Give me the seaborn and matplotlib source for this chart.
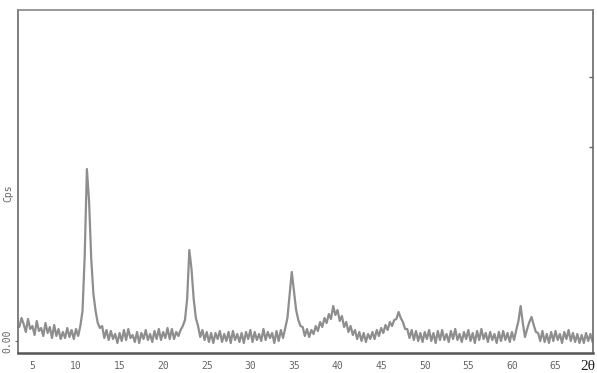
import numpy as np
import pandas as pd
import matplotlib
matplotlib.use("Agg")
import matplotlib.pyplot as plt
import seaborn as sns

# 2-theta scan grid (degrees), instrument step 0.25
theta_start = 3.5
theta_step = 0.25

# intensity (Cps, arbitrary units), per 1-degree block
cps = [
    14, 23,                                  # 3.5 - 3.75
    17, 9, 22, 12,                           # 4
    15, 6, 20, 10,                           # 5
    13, 5, 18, 8,                            # 6
    14, 3, 16, 5,                            # 7
    12, 2, 9, 3,                             # 8
    13, 4, 11, 2,                            # 9
    12, 5, 15, 30,                           # 10
    85, 172, 140, 82,                        # 11
    47, 30, 18, 13,                          # 12
    15, 3, 11, 1,                            # 13
    10, 2, 7, -2,                            # 14
    8, 0, 11, 1,                             # 15
    12, 3, 6, -1,                            # 16
    9, -2, 8, 2,                             # 17
    11, 1, 7, -1,                            # 18
    10, 2, 12, 1,                            # 19
    9, 3, 13, 2,                             # 20
    12, 2, 9, 5,                             # 21
    11, 15, 21, 42,                          # 22
    91, 72, 42, 23,                          # 23
    15, 4, 11, 1,                            # 24
    9, -1, 8, -2,                            # 25
    8, 2, 10, -1,                            # 26
    7, 0, 9, -2,                             # 27
    10, 1, 7, -1,                            # 28
    8, -2, 9, 2,                             # 29
    11, -1, 9, 1,                            # 30
    7, 0, 12, 1,                             # 31
    9, 3, 8, -2,                             # 32
    10, 0, 11, 3,                            # 33
    13, 23, 46, 69,                          # 34
    50, 31, 21, 15,                          # 35
    14, 5, 12, 4,                            # 36
    11, 7, 15, 10,                           # 37
    19, 14, 23, 18,                          # 38
    27, 22, 35, 26,                          # 39
    31, 20, 25, 14,                          # 40
    19, 9, 15, 6,                            # 41
    11, 2, 9, 0,                             # 42
    8, -1, 7, 2,                             # 43
    9, 2, 11, 5,                             # 44
    13, 8, 16, 11,                           # 45
    19, 15, 21, 22,                          # 46
    29, 23, 19, 12,                          # 47
    12, 3, 11, 1,                            # 48
    10, 0, 8, -1,                            # 49
    9, 2, 11, 0,                             # 50
    8, -2, 10, 1,                            # 51
    11, 1, 7, -1,                            # 52
    10, 2, 12, 1,                            # 53
    7, -1, 9, 2,                             # 54
    11, 0, 8, -2,                            # 55
    10, 1, 12, 2,                            # 56
    8, -1, 9, 1,                             # 57
    7, -2, 9, 0,                             # 58
    10, 1, 8, -1,                            # 59
    9, 1, 11, 20,                            # 60
    35, 18, 4, 12,                           # 61
    19, 24, 16, 9,                           # 62
    8, 0, 10, -1,                            # 63
    7, -2, 9, 0,                             # 64
    10, 1, 7, -2,                            # 65
    9, 2, 11, 0,                             # 66
    8, -1, 7, -2,                            # 67
    6, -2, 8, 0,                             # 68
    7, -1, 5,                                # 69 - 69.5
]
two_theta = theta_start + theta_step * np.arange(len(cps))

x_ticks = [5, 10, 15, 20, 25, 30, 35, 40, 45, 50, 55, 60, 65]
x_tick_labels = [str(t) for t in x_ticks]
y_tick_labels = ["0.00"]

df = pd.DataFrame({"2theta": two_theta, "cps": cps})

sns.set_style("white")
plt.rcParams["font.family"] = ["DejaVu Sans Mono", "DejaVu Sans"]

W, H = 597, 373
fig = plt.figure(figsize=(W / 100, H / 100), dpi=100)
ax = fig.add_axes([18 / W, (H - 353) / H, (593 - 18) / W, (353 - 10) / H])

sns.lineplot(data=df, x="2theta", y="cps", ax=ax, color="#8e8e8e",
             linewidth=1.6, estimator=None, sort=False)

ax.set_xlim(3.35, 69.3)
ax.set_ylim(-12, 331)

ax.set_xticks(x_ticks)
ax.set_xticklabels(x_tick_labels)
ax.set_xticks(np.arange(4, 70, 1), minor=True)
ax.tick_params(axis="x", which="major", direction="out", length=3, width=1,
               color="#666666", labelsize=7, labelcolor="#666666", pad=3)
ax.tick_params(axis="x", which="minor", direction="out", length=1.5,
               width=0.8, color="#888888")

ax.set_yticks([0])
ax.set_yticklabels(y_tick_labels, rotation=90, va="center")
ax.tick_params(axis="y", which="major", direction="out", length=2,
               color="#666666", labelsize=7, labelcolor="#666666", pad=2,
               left=True, right=False)

# inward ticks on the right spine
ax2 = ax.secondary_yaxis("right")
ax2.set_yticks([194, 264])
ax2.set_yticklabels(["", ""])
ax2.tick_params(direction="in", length=3, color="#666666", width=1)
ax2.spines["right"].set_visible(False)

ax.set_xlabel("")
ax.set_ylabel("")

for name, sp in ax.spines.items():
    sp.set_visible(True)
    sp.set_color("#6a6a6a")
    sp.set_linewidth(1.2)
ax.spines["bottom"].set_linewidth(1.8)
ax.spines["bottom"].set_color("#555555")
ax.spines["top"].set_color("#888888")

fig.text(8 / W, 1 - 193 / H, "Cps", rotation=90, ha="center", va="center",
         fontsize=7, color="#666666")
fig.text(588 / W, 1 - 366 / H, "2θ", ha="center", va="center",
         fontsize=11, color="#222222", family=["Liberation Serif", "DejaVu Serif"])

fig.savefig("out.png", dpi=100)
